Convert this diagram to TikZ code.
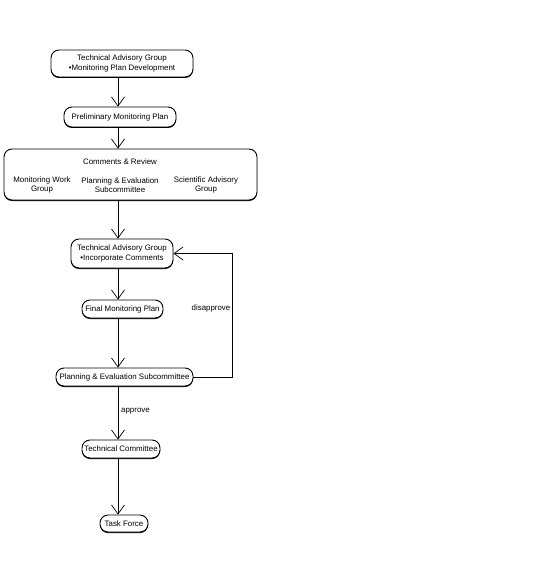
\documentclass[tikz,border=0pt]{standalone}
\usepackage{fontspec}
\setmainfont{Liberation Sans}
\usetikzlibrary{arrows.meta}
\usetikzlibrary{shadows}

\begin{document}
\begin{tikzpicture}[x=1pt, y=-1pt,
  stagebox/.style={draw, line width=0.9pt, fill=white, rounded corners=8pt,
       inner sep=1pt, align=center, font=\fontsize{7.9}{9.5}\selectfont,
       drop shadow={shadow xshift=0pt, shadow yshift=-1pt, fill=black, opacity=1}},
  flowline/.style={-{Straight Barb[length=9pt, width=13pt, line width=0.7pt]}, line width=0.7pt},
  flowlabel/.style={font=\fontsize{7.9}{9}\selectfont, align=center, inner sep=1pt}]

\useasboundingbox (0,0) rectangle (540,577);

\node[stagebox, minimum width=142pt, minimum height=27pt] (tagdev) at (122,63.5)
  {Technical Advisory Group\\ •Monitoring Plan Development};
\node[stagebox, minimum width=112pt, minimum height=20pt] (prelim) at (120,117)
  {Preliminary Monitoring Plan};
\node[stagebox, minimum width=253pt, minimum height=51pt] (review) at (130.5,174.5) {};
\node[flowlabel] (revtitle) at (120,162) {Comments \& Review};
\node[flowlabel] (mwg) at (42,185) {Monitoring Work\\ Group};
\node[flowlabel] (pesc) at (120,185) {Planning \& Evaluation\\ Subcommittee};
\node[flowlabel] (sag) at (206,185) {Scientific Advisory\\ Group};
\node[stagebox, minimum width=102pt, minimum height=29pt] (tagcom) at (122,253.5)
  {Technical Advisory Group\\ •Incorporate Comments};
\node[stagebox, minimum width=81pt, minimum height=18pt] (final) at (122.5,309)
  {Final Monitoring Plan};
\node[stagebox, minimum width=137pt, minimum height=18pt] (pes) at (124.5,377)
  {Planning \& Evaluation Subcommittee};
\node[stagebox, minimum width=78pt, minimum height=18pt] (techcom) at (121,449)
  {Technical Committee};
\node[stagebox, minimum width=48pt, minimum height=17pt] (task) at (124,523.5)
  {Task Force};

\coordinate (loop) at (232,377);
\node[flowlabel] (disapp) at (211,308) {disapprove};
\node[flowlabel, anchor=west] (approve) at (120,411) {approve};

\draw[flowline] ([xshift=-4pt]tagdev.south) -- ([xshift=-2pt]prelim.north);
\draw[flowline] ([xshift=-2pt]prelim.south) -- ([xshift=-12.5pt]review.north);
\draw[flowline] ([xshift=-12.5pt]review.south) -- ([xshift=-4pt]tagcom.north);
\draw[flowline] ([xshift=-4pt]tagcom.south) -- ([xshift=-4.5pt]final.north);
\draw[flowline] ([xshift=-4.5pt]final.south) -- ([xshift=-6.5pt]pes.north);
\draw[flowline] ([xshift=-6.5pt]pes.south) -- ([xshift=-3pt]techcom.north);
\draw[flowline] ([xshift=-3pt]techcom.south) -- ([xshift=-6pt]task.north);
\draw[flowline] (pes.east) -- (loop) |- (tagcom.east);

\end{tikzpicture}
\end{document}
